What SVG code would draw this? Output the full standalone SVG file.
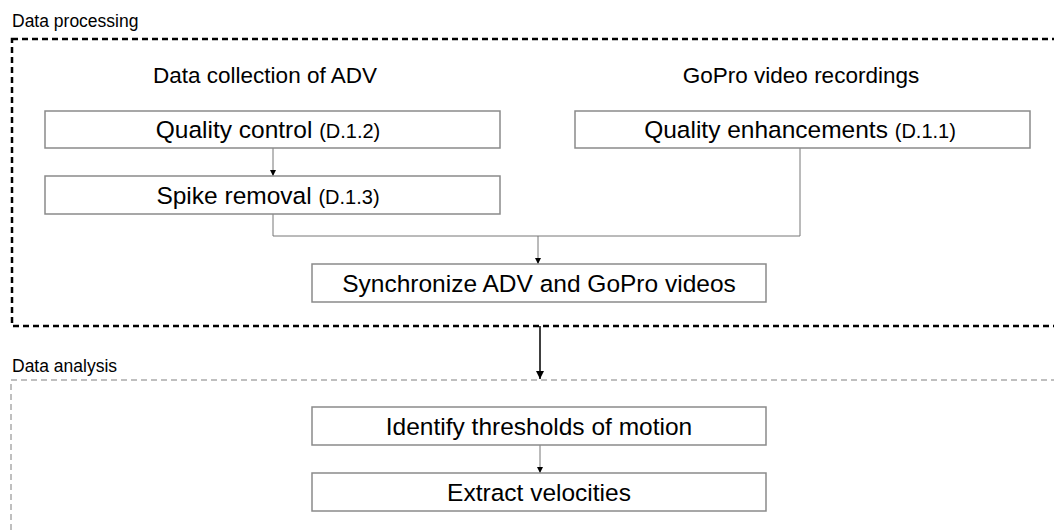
<svg xmlns="http://www.w3.org/2000/svg" width="1054" height="530" viewBox="0 0 1054 530">
  <style>
    text { font-family: "Liberation Sans", Arial, sans-serif; fill: #000; }
    .box { fill: #fff; stroke: #8a8a8a; stroke-width: 1.5; }
    .lbl { font-size: 24.5px; text-anchor: middle; }
    .ref { font-size: 20px; }
    .hdr { font-size: 22.5px; text-anchor: middle; }
    .sec { font-size: 17.5px; }
    .link { fill: none; stroke: #777; stroke-width: 1; }
    .link-main { fill: none; stroke: #000; stroke-width: 1.5; }
  </style>
  <defs>
    <marker id="tip" viewBox="0 0 10 10" refX="10" refY="5" markerWidth="6" markerHeight="6" markerUnits="userSpaceOnUse" orient="auto">
      <path d="M0,0 L10,5 L0,10 Z" fill="#000"/>
    </marker>
    <marker id="tip-main" viewBox="0 0 10 10" refX="10" refY="5" markerWidth="8" markerHeight="8" markerUnits="userSpaceOnUse" orient="auto">
      <path d="M0,0 L10,5 L0,10 Z" fill="#000"/>
    </marker>
  </defs>

  <!-- Section frames -->
  <g id="section-processing">
    <text class="sec" x="12" y="27">Data processing</text>
    <rect x="12" y="39" width="1060" height="287" fill="none" stroke="#000" stroke-width="2.5" stroke-dasharray="6 4"/>
  </g>
  <g id="section-analysis">
    <text class="sec" x="12" y="372">Data analysis</text>
    <rect x="11" y="380" width="1060" height="170" fill="none" stroke="#aaa" stroke-width="1.5" stroke-dasharray="6 4"/>
  </g>

  <!-- Column headers -->
  <g id="header-adv">
    <text class="hdr" x="265" y="83">Data collection of ADV</text>
  </g>
  <g id="header-gopro">
    <text class="hdr" x="801" y="83">GoPro video recordings</text>
  </g>

  <!-- Connectors -->
  <g id="connectors">
    <line class="link" x1="273" y1="148" x2="273" y2="176" marker-end="url(#tip)"/>
    <polyline class="link" points="273,214 273,236 800,236 800,148"/>
    <line class="link" x1="538" y1="236" x2="538" y2="264" marker-end="url(#tip)"/>
    <line class="link-main" x1="540" y1="326" x2="540" y2="379" marker-end="url(#tip-main)"/>
    <line class="link" x1="540" y1="445" x2="540" y2="473" marker-end="url(#tip)"/>
  </g>

  <!-- Process steps -->
  <g id="quality-control">
    <rect class="box" x="45" y="111" width="455" height="37"/>
    <text class="lbl" x="268" y="138">Quality control <tspan class="ref">(D.1.2)</tspan></text>
  </g>
  <g id="spike-removal">
    <rect class="box" x="45" y="176" width="455" height="38"/>
    <text class="lbl" x="268" y="203.5">Spike removal <tspan class="ref">(D.1.3)</tspan></text>
  </g>
  <g id="quality-enhancements">
    <rect class="box" x="575" y="111" width="455" height="37"/>
    <text class="lbl" x="800" y="138">Quality enhancements <tspan class="ref">(D.1.1)</tspan></text>
  </g>
  <g id="synchronize">
    <rect class="box" x="312" y="264" width="454" height="38"/>
    <text class="lbl" x="539" y="291.5">Synchronize ADV and GoPro videos</text>
  </g>
  <g id="identify-thresholds">
    <rect class="box" x="312" y="407" width="454" height="38"/>
    <text class="lbl" x="539" y="434.5">Identify thresholds of motion</text>
  </g>
  <g id="extract-velocities">
    <rect class="box" x="312" y="473" width="454" height="38"/>
    <text class="lbl" x="539" y="500.5">Extract velocities</text>
  </g>
</svg>
